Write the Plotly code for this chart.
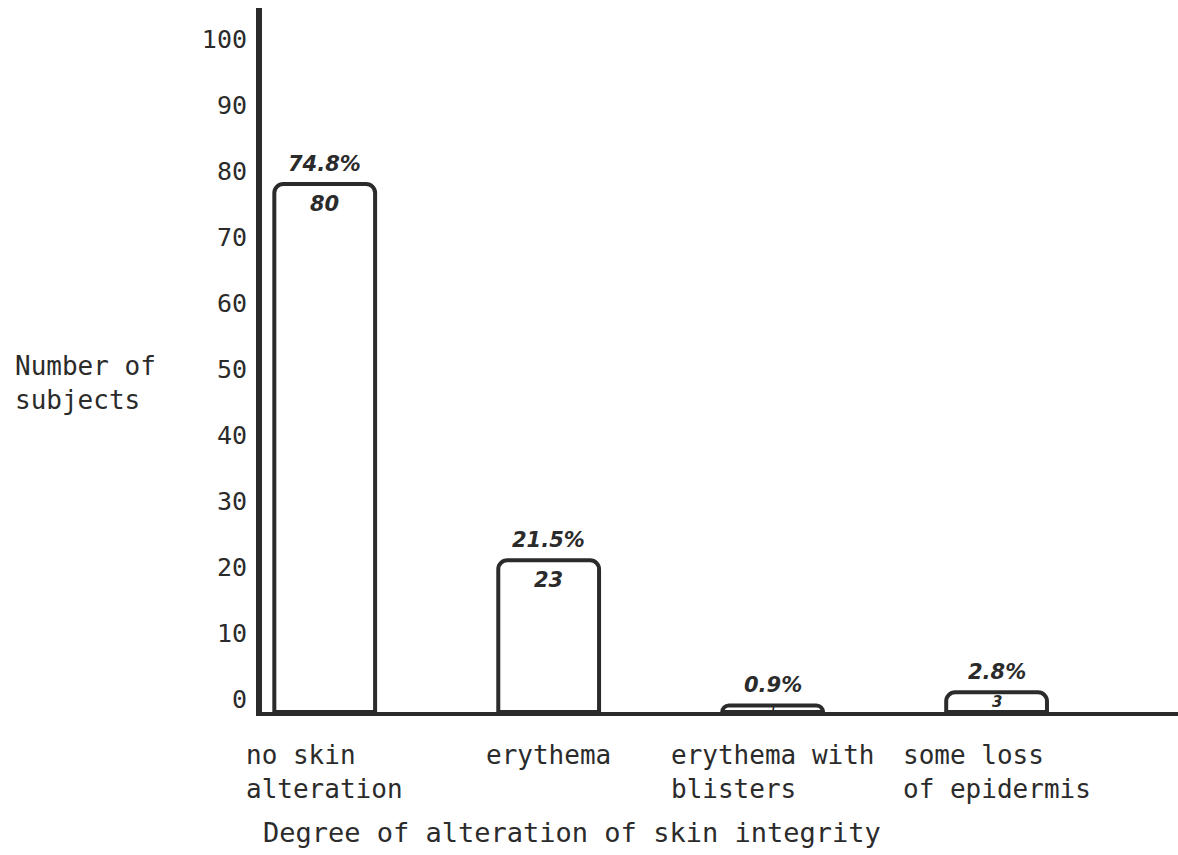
import plotly.graph_objects as go

categories = ["no skin<br>alteration", "erythema", "erythema with<br>blisters", "some loss<br>of epidermis"]
counts = [80, 23, 1, 3]
percents = ["74.8%", "21.5%", "0.9%", "2.8%"]
y_ticks = [0, 10, 20, 30, 40, 50, 60, 70, 80, 90, 100]
y_title = "Number of<br>subjects"
x_title = "Degree of alteration of skin integrity"

INK = "#2b2b2b"
MONO = "DejaVu Sans Mono"
Y_MAX = 106.67


def hand(size):
    return dict(family="DejaVu Sans", size=size, color=INK, style="italic", weight="bold")


fig = go.Figure()
fig.add_trace(go.Bar(
    x=categories, y=counts,
    width=0.45,
    marker=dict(color="white", line=dict(color=INK, width=4), cornerradius=9),
    cliponaxis=False, showlegend=False, hoverinfo="skip",
))

annotations = []
for c, v, p in zip(categories, counts, percents):
    annotations.append(dict(x=c, y=v, xref="x", yref="y", text=p, showarrow=False,
                            yanchor="bottom", yshift=6, font=hand(21)))
    if v >= 10:
        annotations.append(dict(x=c, y=v, xref="x", yref="y", text=str(v), showarrow=False,
                                yanchor="top", yshift=-6, font=hand(21)))
    else:
        annotations.append(dict(x=c, y=v / 2, xref="x", yref="y", text=str(v), showarrow=False,
                                yanchor="middle", font=hand(6 + 3 * v)))
    annotations.append(dict(x=c, y=0, xref="x", yref="paper", text=c, showarrow=False,
                            xanchor="center", yanchor="top", align="left", yshift=-26,
                            font=dict(family=MONO, size=26, color=INK)))
annotations.append(dict(x=0.338, y=0, xref="paper", yref="paper", text=x_title,
                        showarrow=False, xanchor="center", yanchor="middle", yshift=-120,
                        font=dict(family=MONO, size=27, color=INK)))
annotations.append(dict(x=-0.272, y=0.467, xref="paper", yref="paper", text=y_title,
                        showarrow=False, xanchor="left", yanchor="middle", align="left",
                        font=dict(family=MONO, size=26, color=INK)))

fig.update_layout(
    width=1178, height=855,
    margin=dict(l=262, r=0, t=8, b=143),
    paper_bgcolor="white", plot_bgcolor="white",
    annotations=annotations,
    xaxis=dict(range=[-0.28, 3.81], showticklabels=False, ticks="", showgrid=False,
               zeroline=False, showline=True, linecolor=INK, linewidth=4),
    yaxis=dict(range=[0, Y_MAX], tickvals=y_ticks, ticks="", showgrid=False,
               zeroline=False, showline=True, linecolor=INK, linewidth=6,
               ticklabelshift=-13, ticklabelstandoff=4,
               tickfont=dict(family=MONO, size=25, color=INK)),
)

fig.write_html("out.html", config={"displayModeBar": False, "staticPlot": True},
               post_script="document.body.style.margin='0';document.body.style.overflow='hidden';")
